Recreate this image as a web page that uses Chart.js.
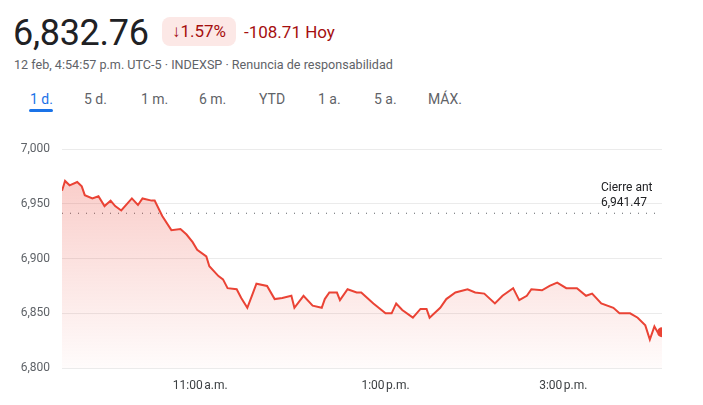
<!DOCTYPE html>
<html><head><meta charset="utf-8">
<script src="https://cdn.jsdelivr.net/npm/chart.js@4"></script>
<style>
body{margin:0;width:703px;height:405px;background:#fff;font-family:Roboto,Arial,sans-serif;position:relative;overflow:hidden}
.price{position:absolute;left:13px;top:12px;font-size:36px;color:#202124;letter-spacing:-0.3px}
.badge{position:absolute;left:162px;top:17px;width:74px;height:29px;background:#fce8e6;border-radius:8px;color:#a50e0e;font-size:17px;line-height:29px;text-align:center}
.chg{position:absolute;left:244px;top:22px;color:#a50e0e;font-size:17px}
.sub{position:absolute;left:14px;top:57px;color:#5f6368;font-size:12.6px}
.tabs{position:absolute;top:91px;left:0;font-size:14px;color:#5f6368}
.tabs span{position:absolute;white-space:nowrap}
.ul{position:absolute;left:29px;top:109px;width:24px;height:3px;background:#1a73e8;border-radius:2px}
#w{position:absolute;left:0;top:130px;width:703px;height:275px}
</style></head><body>
<div class="price">6,832.76</div>
<div class="badge">↓1.57%</div>
<div class="chg">-108.71 Hoy</div>
<div class="sub">12 feb, 4:54:57 p.m. UTC-5 · INDEXSP · Renuncia de responsabilidad</div>
<div class="tabs">
<span style="left:30px;color:#1a73e8">1 d.</span><span style="left:84px">5 d.</span><span style="left:141px">1 m.</span><span style="left:199px">6 m.</span><span style="left:259px">YTD</span><span style="left:318px">1 a.</span><span style="left:374px">5 a.</span><span style="left:428px">MÁX.</span>
</div>
<div class="ul"></div>
<div id="w"><canvas id="c"></canvas></div>
<script>
const minutes=[0,2,5,10,13,15,20,24,28,32,35,39,46,50,53,59,61,66,72,78,82,86,89,95,97,103,106,109,115,118,122,125,128,135,140,145,151,153,159,165,171,173,176,181,183,188,194,197,201,205,213,217,220,224,231,236,240,242,249,253,259,267,272,278,285,290,297,301,306,309,316,321,326,332,339,345,349,355,363,367,374,379,384,387,390,392,395];
const values=[6962,6971,6967,6970,6966,6958,6955,6957,6948,6953,6948,6944,6955,6949,6955,6953,6953,6939,6926,6927,6922,6915,6908,6902,6893,6884,6881,6873,6872,6864,6855,6866,6877,6875,6863,6864,6866,6855,6866,6857,6855,6863,6869,6869,6862,6872,6869,6869,6864,6859,6850,6850,6859,6853,6846,6854,6854,6846,6855,6863,6869,6872,6869,6868,6859,6866,6873,6862,6866,6872,6871,6875,6878,6873,6873,6866,6868,6859,6855,6850,6850,6846,6839,6826,6838,6833,6832.76];
const prevClose=6941.47;
const xTicks=[91,213,330];
const xTickLabels=['11:00\u202fa.m.','1:00\u202fp.m.','3:00\u202fp.m.'];
const yTicks=[6800,6850,6900,6950,7000];
const pts=minutes.map((m,i)=>({x:m,y:values[i]}));
const labelPlugin={id:'lbl',afterDatasetsDraw(ch){const c=ch.ctx,y=ch.scales.y;c.save();c.fillStyle='#202124';c.font='12px Roboto';c.textAlign='left';const yy=y.getPixelForValue(prevClose);c.fillText('Cierre ant',601,yy-22);c.fillText('6,941.47',601,yy-7);c.restore();}};
new Chart(document.getElementById('c'),{type:'line',
data:{datasets:[
{data:pts,borderColor:'#ea4335',borderWidth:2,tension:0,
 pointRadius:pts.map((p,i)=>i===pts.length-1?5:0),pointBackgroundColor:'#ea4335',pointBorderWidth:0,
 fill:'start',backgroundColor:(ctx)=>{const a=ctx.chart.chartArea;if(!a)return 'rgba(234,67,53,0.2)';const g=ctx.chart.ctx.createLinearGradient(0,a.top,0,a.bottom);g.addColorStop(0,'rgba(234,67,53,0.3)');g.addColorStop(1,'rgba(234,67,53,0.02)');return g;}},
{data:[{x:0,y:prevClose},{x:395,y:prevClose}],borderColor:'#5f6368',borderWidth:1.2,borderDash:[1,7],pointRadius:0,fill:false}
]},
options:{responsive:true,maintainAspectRatio:false,animation:false,
layout:{padding:{top:12,right:41,bottom:0,left:0}},
plugins:{legend:{display:false},tooltip:{enabled:false}},
scales:{
x:{type:'linear',min:0,max:395,afterBuildTicks:s=>{s.ticks=xTicks.map(v=>({value:v}));},afterFit:s=>{s.height=37;},
 ticks:{callback:(v)=>xTickLabels[xTicks.indexOf(v)],color:'#3c4043',font:{size:12,family:'Roboto'},maxRotation:0,autoSkip:false},
 grid:{display:false},border:{display:false}},
y:{min:6800,max:7000,afterBuildTicks:s=>{s.ticks=yTicks.map(v=>({value:v}));},afterFit:s=>{s.width=62;},
 ticks:{callback:v=>v.toLocaleString('en-US'),color:'#5f6368',font:{size:12,family:'Roboto'},padding:12},
 grid:{color:'#ebebeb',drawTicks:false},border:{display:false}}
}},plugins:[labelPlugin]});
</script></body></html>
